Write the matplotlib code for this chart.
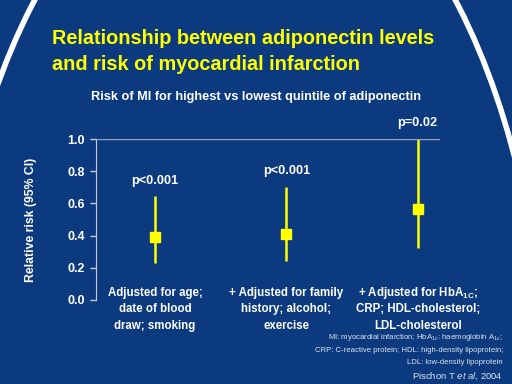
import matplotlib.pyplot as plt
from matplotlib.patches import Ellipse
from matplotlib.transforms import blended_transform_factory

plt.rcParams['font.family'] = ['Liberation Sans', 'DejaVu Sans']
plt.rcParams['mathtext.fontset'] = 'custom'
plt.rcParams['mathtext.rm'] = 'Liberation Sans'
plt.rcParams['mathtext.bf'] = 'Liberation Sans:bold'
plt.rcParams['mathtext.it'] = 'Liberation Sans:italic'

# Datos
categorias = [["Adjusted for age;", "date of blood", "draw; smoking"],
              ["+ Adjusted for family", "history; alcohol;", "exercise"],
              ["+ Adjusted for HbA$_{\\mathbf{1C}}$;", "CRP; HDL-cholesterol;", "LDL-cholesterol"]]
riesgo = [0.39, 0.41, 0.565]
ic_bajo = [0.23, 0.24, 0.32]
ic_alto = [0.645, 0.70, 1.0]
p_valores = ["p<0.001", "p<0.001", "p=0.02"]
p_y = [0.74, 0.80, 1.10]
yticks = [0.0, 0.2, 0.4, 0.6, 0.8, 1.0]

fondo = '#0b3a7e'
amarillo = '#ffff00'

fig = plt.figure(figsize=(5.12, 3.84), dpi=100)
fig.patch.set_facecolor(fondo)

# capa de fondo en pixeles para los arcos blancos
bg = fig.add_axes([0, 0, 1, 1])
bg.set_xlim(0, 512)
bg.set_ylim(384, 0)
bg.axis('off')
bg.add_patch(Ellipse((245, 422), 604, 1176, fill=False, edgecolor='white', lw=4))

fig.text(52 / 512, 1 - 29 / 384, "Relationship between adiponectin levels\nand risk of myocardial infarction",
         color=amarillo, fontsize=14.3, fontweight='bold', ha='left', va='top', linespacing=1.45)
fig.text(256 / 512, 1 - 97 / 384, "Risk of MI for highest vs lowest quintile of adiponectin",
         color='white', fontsize=9.2, fontweight='bold', ha='center', va='center')

ax = fig.add_axes([96 / 512, 1 - 300 / 384, 344 / 512, 161 / 384])
ax.set_facecolor('none')
x = list(range(len(riesgo)))
err = [[r - lo for r, lo in zip(riesgo, ic_bajo)], [hi - r for r, hi in zip(riesgo, ic_alto)]]
ax.errorbar(x, riesgo, yerr=err, fmt='s', color=amarillo, ecolor=amarillo,
            elinewidth=1.8, capsize=0, markersize=7, clip_on=False)

ax.set_xlim(-0.45, 2.17)
ax.set_ylim(0, 1.0)
ax.set_yticks(yticks)
ax.set_yticklabels([f"{v:.1f}" for v in yticks], color='white', fontweight='bold', fontsize=9)
ax.set_xticks([])
ax.tick_params(axis='y', colors='#c8c8d8', length=4, width=1, pad=4, labelcolor='white')
for s in ['top', 'right', 'bottom']:
    ax.spines[s].set_visible(False)
ax.spines['left'].set_color('#c8c8d8')
ax.axhline(1.0, color='#9aa4c0', lw=1)

ax.set_ylabel("Relative risk (95% CI)", color='white', fontweight='bold', fontsize=8.8)
ax.yaxis.set_label_coords(-0.172, 0.5)

for xi, txt, py in zip(x, p_valores, p_y):
    ax.text(xi, py, txt, color='white', fontweight='bold', fontsize=9.2, ha='center', va='center', clip_on=False)

# etiquetas de categoria, una linea cada vez
tr = blended_transform_factory(ax.transData, ax.transAxes)
for xi, lineas in zip(x, categorias):
    for i, linea in enumerate(lineas):
        ax.text(xi, 0.025 - i * 0.1025, linea, transform=tr, color='white', fontweight='bold',
                fontsize=8.3, ha='center', va='baseline', clip_on=False)

nota = ("MI: myocardial infarction; HbA$_{1c}$: haemoglobin A$_{1c}$;\n"
        "CRP: C-reactive protein; HDL: high-density lipoprotein;\n"
        "LDL: low-density lipoprotein")
fig.text(503 / 512, 1 - 332 / 384, nota, color='#dde2ee', fontsize=5.6, ha='right', va='top', linespacing=1.9)
fig.text(503 / 512, 1 - 376 / 384, "Pischon T $\\it{et\\ al}$, 2004", color='#dde2ee', fontsize=6.8,
         ha='right', va='center')

plt.savefig("out.png", dpi=100, facecolor=fondo)
